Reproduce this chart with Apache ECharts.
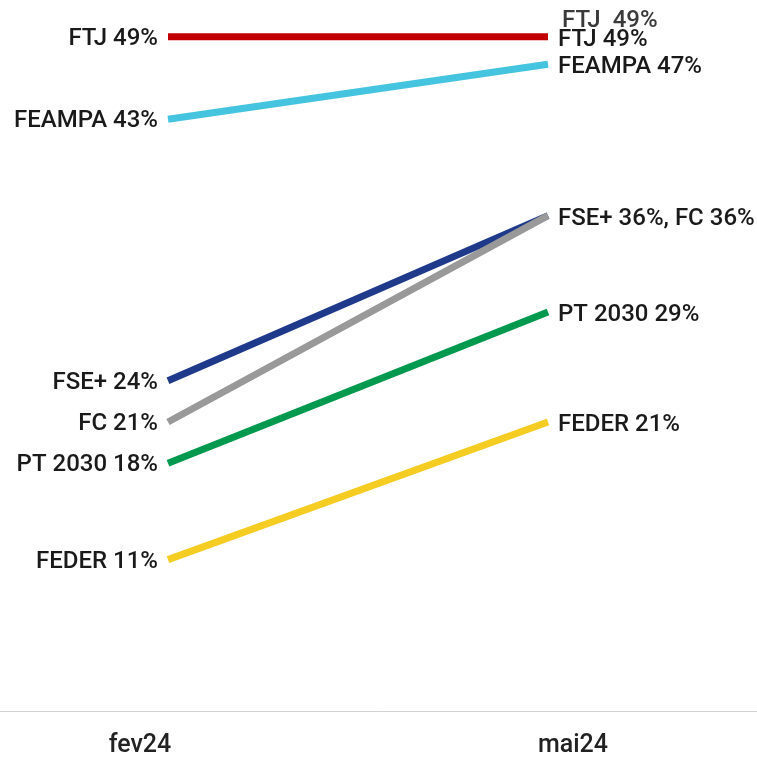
<!DOCTYPE html>
<html>
<head>
<meta charset="utf-8">
<script src="https://cdn.jsdelivr.net/npm/echarts@6/dist/echarts.min.js"></script>
<style>
  html, body { margin: 0; padding: 0; background: #fff; }
  #chart { width: 757px; height: 762px; }
</style>
</head>
<body>
<div id="chart"></div>
<script>
// periods
const periods = ['fev24', 'mai24']
// series names and values (%)
const names = ['FTJ', 'FEAMPA', 'FSE+', 'FC', 'PT 2030', 'FEDER']
const fev24 = [49, 43, 24, 21, 18, 11]
const mai24 = [49, 47, 36, 36, 29, 21]
const colors = ['#c00000', '#45c4e0', '#1f3a8a', '#999999', '#00994d', '#f5cc22']

const labelFont = {
  fontFamily: 'Roboto',
  fontWeight: 500,
  fontSize: 24,
  color: '#1a1a1a'
}

const series = names.map((name, i) => {
  let rightText = name + ' ' + mai24[i] + '%'
  let showRight = true
  if (name === 'FSE+') rightText = 'FSE+ ' + mai24[i] + '%, FC ' + mai24[3] + '%'
  if (name === 'FC') showRight = false
  const s = {
    name: name,
    type: 'line',
    xAxisIndex: 0,
    yAxisIndex: 0,
    symbol: 'circle',
    symbolSize: 0,
    showSymbol: true,
    lineStyle: { color: colors[i], width: 7 },
    itemStyle: { color: colors[i] },
    z: 2,
    animation: false,
    data: [
      {
        value: fev24[i],
        label: Object.assign({ show: true, position: 'left', distance: 10, offset: [0, 2], formatter: name + ' ' + fev24[i] + '%' }, labelFont)
      },
      {
        value: mai24[i],
        label: Object.assign({ show: showRight, position: 'right', distance: 10, offset: [0, 3], formatter: rightText }, labelFont)
      }
    ]
  }
  if (name === 'FTJ') {
    // duplicated label drawn a bit above
    s.endLabel = Object.assign({}, labelFont, {
      show: true,
      formatter: 'FTJ  49%',
      color: '#3a3a3a',
      fontWeight: 500,
      fontSize: 24,
      offset: [6, -16]
    })
  }
  return s
})

const chart = echarts.init(document.getElementById('chart'))
chart.setOption({
  backgroundColor: '#fff',
  animation: false,
  grid: [
    { left: 168, right: 209, top: 23, bottom: 51 },
    { left: 0, right: 0, top: 23, bottom: 51 }
  ],
  xAxis: [
    {
      type: 'category',
      gridIndex: 0,
      data: periods,
      boundaryGap: false,
      axisLine: { show: false },
      axisTick: { show: false },
      axisLabel: {
        margin: 22,
        formatter: (v, idx) => (idx === 0 ? '{l|' + v + '}' : '{r|' + v + '}'),
        rich: {
          l: { fontFamily: 'Roboto', fontWeight: 500, fontSize: 25, color: '#222', padding: [0, 56, 0, 0] },
          r: { fontFamily: 'Roboto', fontWeight: 500, fontSize: 25, color: '#222', padding: [0, 0, 0, 50] }
        }
      }
    },
    {
      type: 'category',
      gridIndex: 1,
      data: periods,
      axisLine: { lineStyle: { color: '#d0d0d0', width: 1 } },
      axisTick: { show: false },
      axisLabel: { show: false }
    }
  ],
  yAxis: [
    { type: 'value', gridIndex: 0, min: 0, max: 50, show: false },
    { type: 'value', gridIndex: 1, min: 0, max: 50, show: false }
  ],
  series: series
})
</script>
</body>
</html>
